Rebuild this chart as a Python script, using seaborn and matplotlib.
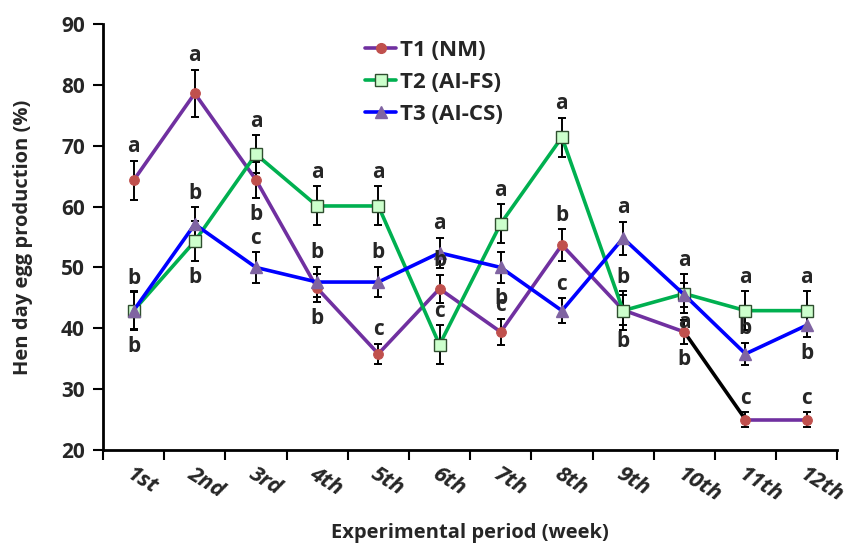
import numpy as np
import pandas as pd
import matplotlib
matplotlib.use("Agg")
import matplotlib.pyplot as plt
from matplotlib.lines import Line2D
import seaborn as sns

weeks = ["1st", "2nd", "3rd", "4th", "5th", "6th", "7th", "8th", "9th", "10th", "11th", "12th"]
series_names = ["T1 (NM)", "T2 (AI-FS)", "T3 (AI-CS)"]

t1_vals = [64.3, 78.6, 64.4, 46.6, 35.8, 46.5, 39.4, 53.7, 43.0, 39.4, 25.0, 25.0]
t1_err = [3.2, 3.9, 3.0, 2.3, 1.7, 2.3, 2.1, 2.6, 2.5, 1.9, 1.2, 1.2]
t1_let = ["a", "a", "b", "b", "c", "b", "c", "b", "b", "b", "c", "c"]
t1_dir = ["up", "up", "down", "down", "up", "up", "up", "up", "down", "down", "up", "up"]

t2_vals = [42.9, 54.3, 68.6, 60.1, 60.1, 37.3, 57.2, 71.4, 42.9, 45.7, 42.9, 42.9]
t2_err = [3.2, 3.3, 3.1, 3.2, 3.2, 3.2, 3.2, 3.2, 3.2, 3.2, 3.2, 3.2]
t2_let = ["b", "b", "a", "a", "a", "c", "a", "a", "b", "a", "a", "a"]
t2_dir = ["down", "down", "up", "up", "up", "up", "up", "up", "up", "up", "up", "up"]

t3_vals = [42.9, 57.1, 50.0, 47.6, 47.6, 52.4, 50.0, 42.9, 54.8, 45.5, 35.8, 40.5]
t3_err = [3.0, 2.8, 2.5, 2.5, 2.5, 2.5, 2.5, 2.0, 2.7, 2.0, 1.8, 2.0]
t3_let = ["b", "b", "c", "b", "b", "a", "b", "c", "a", "a", "b", "b"]
t3_dir = ["up", "up", "up", "up", "up", "up", "down", "up", "up", "down", "up", "down"]

y_ticks = [20, 30, 40, 50, 60, 70, 80, 90]

sns.set_theme(style="ticks")
plt.rcParams["font.family"] = ["Open Sans", "DejaVu Sans"]
plt.rcParams["font.weight"] = "bold"

fig = plt.figure(figsize=(8.46, 5.48), dpi=100)
ax = fig.add_axes([0.1217, 0.1788, 0.868, 0.7774])

xpos = np.arange(len(weeks)) + 0.5
df = pd.DataFrame({"x": np.tile(xpos, 3),
                   "y": t1_vals + t2_vals + t3_vals,
                   "err": t1_err + t2_err + t3_err,
                   "s": np.repeat(series_names, len(weeks))})

line_colors = ["#7030A0", "#00B050", "#0000FF"]
mk = ["o", "s", "^"]
mfc = ["#C0504D", "#CCFFCC", "#8064A2"]
mec = ["#C0504D", "#2F4F2F", "#8064A2"]
msz = [7, 8, 8]

for i, name in enumerate(series_names):
    d = df[df.s == name]
    ax.errorbar(d.x, d.y, yerr=d.err, fmt="none", ecolor="black",
                elinewidth=1.4, capsize=3, capthick=1.4, zorder=2)

for i, name in enumerate(series_names):
    d = df[df.s == name]
    if i == 0:
        d1 = d.iloc[:10]
        d2 = d.iloc[9:11]
        d3 = d.iloc[10:]
        for part, col in [(d1, line_colors[0]), (d2, "black"), (d3, line_colors[0])]:
            sns.lineplot(data=part, x="x", y="y", ax=ax, color=col, lw=2.6,
                         sort=False, zorder=3, errorbar=None)
        sns.lineplot(data=d, x="x", y="y", ax=ax, lw=0, marker=mk[i],
                     markersize=msz[i], markerfacecolor=mfc[i],
                     markeredgecolor=mec[i], sort=False, zorder=4, errorbar=None)
    else:
        sns.lineplot(data=d, x="x", y="y", ax=ax, color=line_colors[i], lw=2.6,
                     marker=mk[i], markersize=msz[i], markerfacecolor=mfc[i],
                     markeredgecolor=mec[i], markeredgewidth=1.0,
                     sort=False, zorder=3 + i, errorbar=None)

for vals, errs, lets, dirs in [(t1_vals, t1_err, t1_let, t1_dir),
                               (t2_vals, t2_err, t2_let, t2_dir),
                               (t3_vals, t3_err, t3_let, t3_dir)]:
    for x, v, e, l, dr in zip(xpos, vals, errs, lets, dirs):
        if dr == "up":
            ax.annotate(l, (x, v + e), xytext=(0, 14), textcoords="offset pixels",
                        ha="center", va="center", fontsize=15, fontweight="bold",
                        zorder=6)
        else:
            ax.annotate(l, (x, v - e), xytext=(0, -16), textcoords="offset pixels",
                        ha="center", va="center", fontsize=15, fontweight="bold",
                        zorder=6)

ax.set_xlim(0, len(weeks))
ax.set_ylim(20, 90)
ax.set_yticks(y_ticks)
ax.set_yticklabels([str(t) for t in y_ticks], fontsize=15, fontweight="bold")
ax.set_xticks(np.arange(len(weeks) + 1))
ax.set_xticklabels([])
ax.set_xticks(xpos, minor=True)
ax.set_xticklabels(weeks, minor=True, fontsize=16, fontweight="bold",
                   fontstyle="italic", rotation=-32, ha="left",
                   rotation_mode="anchor")
ax.tick_params(axis="x", which="minor", length=0, pad=10)
ax.tick_params(axis="both", which="major", length=7, width=1.5, direction="out",
               color="black")
ax.tick_params(axis="y", which="major", pad=6)
sns.despine(ax=ax)
for sp in ["left", "bottom"]:
    ax.spines[sp].set_linewidth(2)
    ax.spines[sp].set_color("black")

ax.set_xlabel("Experimental period (week)", fontsize=14.5, fontweight="bold",
              labelpad=12)
ax.set_ylabel("Hen day egg production (%)", fontsize=14.5, fontweight="bold",
              labelpad=20)

handles = [Line2D([0], [0], color=line_colors[i], lw=2.6, marker=mk[i],
                  markersize=msz[i], markerfacecolor=mfc[i], markeredgecolor=mec[i])
           for i in range(3)]
leg = ax.legend(handles, series_names, loc="upper left",
                bbox_to_anchor=(0.33, 1.01), frameon=False,
                handlelength=1.4, handletextpad=0.15, labelspacing=0.5,
                prop={"weight": "bold", "size": 16})

fig.savefig("out.png", dpi=100)
